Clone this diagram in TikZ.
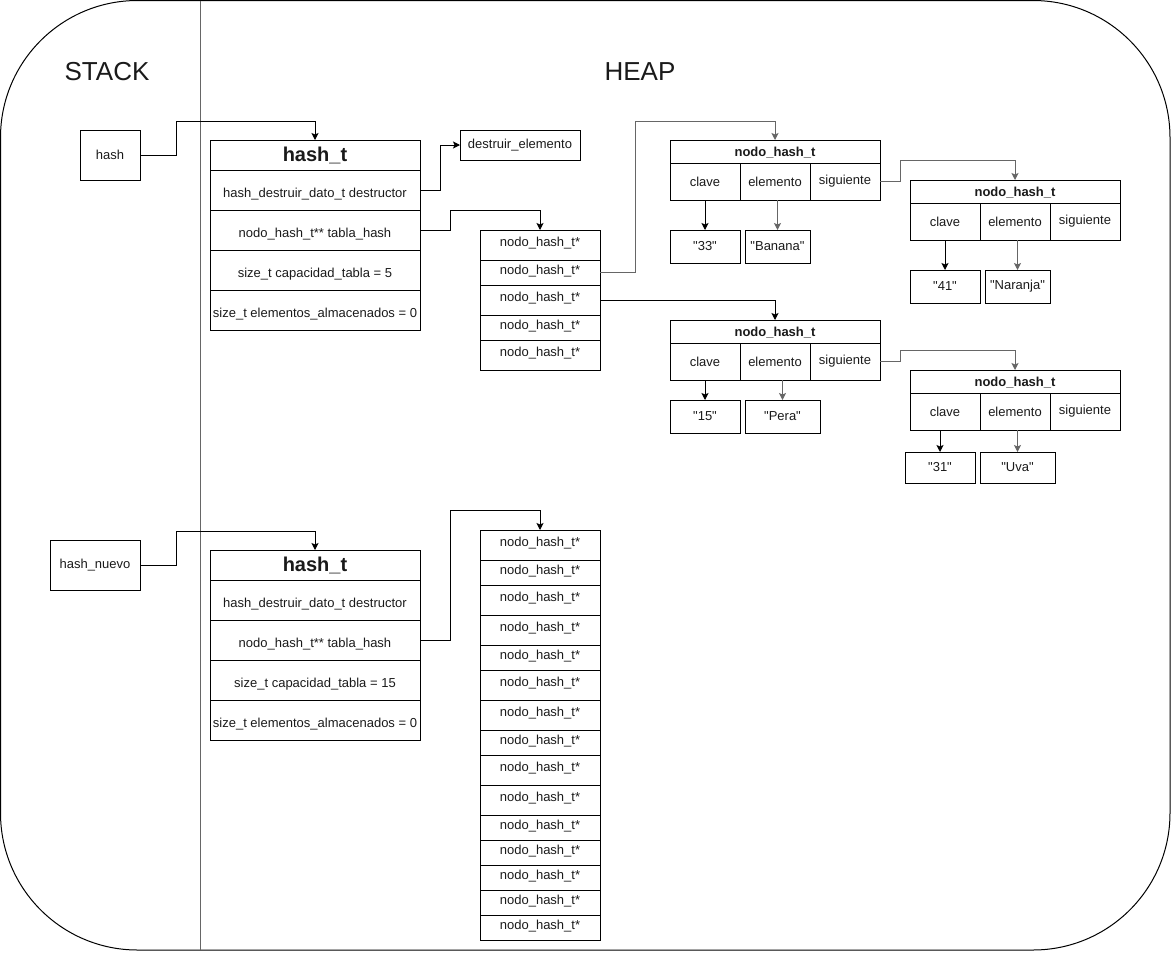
\documentclass[tikz,border=0pt]{standalone}
\usepackage{fontspec}
\setmainfont{Liberation Sans}
% same face without the TeX mapping, so that " stays a straight quote
\newfontfamily\plainfont{Liberation Sans}
\usetikzlibrary{arrows.meta}
\definecolor{linegray}{HTML}{666666}
\definecolor{txt}{HTML}{1A1A1A}

% straight double quotes around a string literal
\newcommand\qq[1]{{\plainfont"#1"}}

% struct hash_t: header + four fields, north-west corner at (#2,#3)
\newcommand\hashstruct[4]{%
  \node[cell, minimum width=210, minimum height=30] (#1h) at (#2,#3)
    {\bfseries\fontsize{20}{24}\selectfont hash\_t};
  \node[field] (#1d) at (#2,#3+30) {hash\_destruir\_dato\_t destructor};
  \node[field] (#1t) at (#2,#3+70) {nodo\_hash\_t** tabla\_hash};
  \node[field] (#1c) at (#2,#3+110) {size\_t capacidad\_tabla = #4};
  \node[field] (#1e) at (#2,#3+150) {size\_t elementos\_almacenados = 0};
}
% struct nodo_hash_t: header + clave / elemento / siguiente
\newcommand\nodohash[3]{%
  \node[cell, minimum width=210, minimum height=23, text height=12pt, text depth=2pt] (#1h) at (#2,#3) {\bfseries nodo\_hash\_t};
  \node[cell, minimum width=70, minimum height=37] (#1c) at (#2,#3+23) {clave};
  \node[cell, minimum width=70, minimum height=37] (#1e) at (#2+70,#3+23) {elemento};
  \node[cell, minimum width=70, minimum height=37] (#1s) at (#2+140,#3+23) {siguiente};
}

\begin{document}
\begin{tikzpicture}[x=1pt,y=-1pt,
  every node/.style={inner sep=0pt, outer sep=0pt, text=txt},
  cell/.style={draw, line width=1pt, anchor=north west, align=center,
    font=\fontsize{13}{15}\selectfont},
  field/.style={cell, minimum width=210, minimum height=40, text height=15pt, text depth=0pt},
  slot/.style={cell, minimum width=120, text height=10pt, text depth=6.6pt},
  title/.style={font=\fontsize{26}{30}\selectfont},
  arr/.style={-{Stealth[length=7pt,width=7pt,inset=1.5pt]}, line width=1pt},
  garr/.style={arr, draw=linegray},
]
\useasboundingbox (0,0) rectangle (1171,967);

% frame and stack / heap divider
\draw[line width=1pt, rounded corners=137pt] (0.5,0.5) rectangle (1170,950);
\draw[line width=1pt, draw=linegray] (200,0.5) -- (200,950);
\node[title] (stack) at (107,72) {STACK};
\node[title] (heap) at (640,72) {HEAP};

% ---------- first table ----------
\node[cell, minimum width=60, minimum height=50] (hash) at (80,130) {hash};
\hashstruct{ha}{210}{140}{5}
\node[cell, minimum width=120, minimum height=30] (dest) at (460,130) {destruir\_elemento};

\foreach \t/\b [count=\i from 0] in {230/260,260/285,285/315,315/340,340/370}
  \node[slot, minimum height={\b-\t}] (ar\i) at (480,\t) {nodo\_hash\_t*};

\nodohash{na}{670}{140}
\nodohash{nb}{910}{180}
\nodohash{nc}{670}{320}
\nodohash{nd}{910}{370}

\node[cell, minimum width=70, minimum height=33] (k33) at (670,230) {\qq{33}};
\node[cell, minimum width=65, minimum height=33] (vban) at (745,230) {\qq{Banana}};
\node[cell, minimum width=70, minimum height=33] (k41) at (910,270) {\qq{41}};
\node[cell, minimum width=65, minimum height=33] (vnar) at (985,270) {\qq{Naranja}};
\node[cell, minimum width=70, minimum height=33] (k15) at (670,400) {\qq{15}};
\node[cell, minimum width=75, minimum height=33] (vper) at (745,400) {\qq{Pera}};
\node[cell, minimum width=70, minimum height=31] (k31) at (905,452) {\qq{31}};
\node[cell, minimum width=75, minimum height=31] (vuva) at (980,452) {\qq{Uva}};

\draw[arr] (hash.east) -- ++(36,0) |- ([yshift=19pt]hah.north) -- (hah.north);
\draw[arr] (had.east) -- ++(20,0) |- (dest.west);
\draw[arr] (hat.east) -- ++(30,0) |- ([yshift=20pt]ar0.north) -- (ar0.north);
\draw[garr] (ar1.east) -- ++(35,0) |- ([yshift=19pt]nah.north) -- (nah.north);
\draw[arr] (ar2.east) -| (nch.north);

\draw[garr] (nas.east) -- ++(20,0) |- ([yshift=20pt]nbh.north) -- (nbh.north);
\draw[garr] (ncs.east) -- ++(20,0) |- ([yshift=20pt]ndh.north) -- (ndh.north);

\draw[arr] (nac.south) -- (k33.north);
\draw[garr] (vban.north |- nae.south) -- (vban.north);
\draw[arr] (nbc.south) -- (k41.north);
\draw[garr] (vnar.north |- nbe.south) -- (vnar.north);
\draw[arr] (ncc.south) -- (k15.north);
\draw[garr] (vper.north |- nce.south) -- (vper.north);
\draw[arr] (k31.north |- ndc.south) -- (k31.north);
\draw[garr] (vuva.north |- nde.south) -- (vuva.north);

% ---------- resized table ----------
\node[cell, minimum width=90, minimum height=50] (hashn) at (50,540) {hash\_nuevo};
\hashstruct{hb}{210}{550}{15}

\foreach \t/\b [count=\i from 0] in {530/560,560/585,585/615,615/645,645/670,670/700,
    700/730,730/755,755/785,785/815,815/840,840/865,865/890,890/915,915/940}
  \node[slot, minimum height={\b-\t}] (br\i) at (480,\t) {nodo\_hash\_t*};

\draw[arr] (hashn.east) -- ++(36,0) |- ([yshift=19pt]hbh.north) -- (hbh.north);
\draw[arr] (hbt.east) -- ++(30,0) |- ([yshift=20pt]br0.north) -- (br0.north);
\end{tikzpicture}
\end{document}
